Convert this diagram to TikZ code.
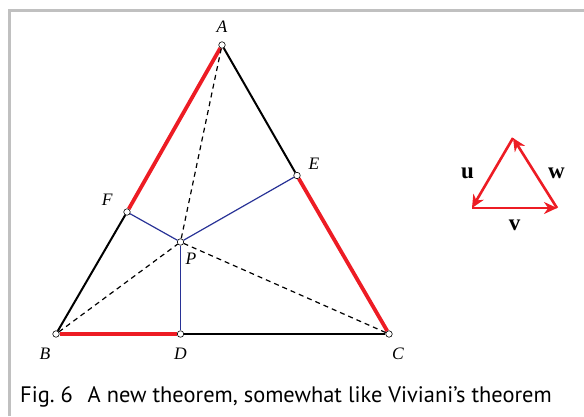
\documentclass[tikz,border=0pt]{standalone}
\usepackage{fontspec}
\setmainfont{Liberation Serif}
\newfontfamily\capfont{PT Sans}
\usetikzlibrary{positioning,arrows.meta}
\definecolor{figred}{RGB}{237,28,36}
\definecolor{figblue}{RGB}{40,50,150}
\definecolor{framegray}{RGB}{192,192,192}
\tikzset{
	vertex/.style={circle, draw, fill=white, inner sep=0pt, minimum size=6.5pt, line width=0.6pt},
	lbl/.style={font=\fontsize{17.5}{17.5}\selectfont\itshape},
	vlbl/.style={text=black, font=\fontsize{23}{23}\selectfont\bfseries},
	redside/.style={figred, line width=3.8pt},
	blackside/.style={black, line width=2pt},
	foot/.style={figblue, line width=1.2pt},
	cevian/.style={black, line width=1.2pt, dash pattern=on 5pt off 4pt},
	vec/.style={figred, line width=2.6pt, -{Stealth[length=13pt, width=12pt]}},
}

\begin{document}
\begin{tikzpicture}[x=1pt, y=-1pt]
	\useasboundingbox (0,0) rectangle (584,416);
	\draw[framegray, line width=2.5pt] (9.5,416) -- (9.5,10.5) -- (584,10.5);
	
	\node[vertex] (A) at (222,45) {};
	\node[vertex] (B) at (56,334) {};
	\node[vertex] (C) at (389,334) {};
	\node[vertex] (P) at (180.5,242) {};
	\node[vertex] (D) at (180.5,334) {};
	\node[vertex] (E) at (297,175.5) {};
	\node[vertex] (F) at (127,212) {};
	
	\node[lbl, above=5pt of A] (lA) {A};
	\node[lbl, below=7pt of B, xshift=-11pt] (lB) {B};
	\node[lbl, below=7pt of C, xshift=9pt] (lC) {C};
	\node[lbl, below=7pt of D] (lD) {D};
	\node[lbl, above right=-0.5pt and 5.5pt of E] (lE) {E};
	\node[lbl, above left=0pt and 8.5pt of F] (lF) {F};
	\node[lbl, below right=5pt and -1pt of P] (lP) {P};
	
	\draw[redside] (A) -- (F);
	\draw[redside] (E) -- (C);
	\draw[redside] (B) -- (D);
	\draw[blackside] (F) -- (B);
	\draw[blackside] (A) -- (E);
	\draw[blackside] (D) -- (C);
	
	\draw[cevian] (A) -- (P);
	\draw[cevian] (B) -- (P);
	\draw[cevian] (C) -- (P);
	
	\draw[foot] (P) -- (D);
	\draw[foot] (P) -- (E);
	\draw[foot] (P) -- (F);
	
	% u, v, w
	\coordinate (vT) at (513,138);
	\coordinate (vL) at (472,208);
	\coordinate (vR) at (557,208);
	\draw[vec] (vT) -- node[vlbl, left=14pt] (lu) {u} (vL);
	\draw[vec] (vL) -- node[vlbl, below=7pt] (lv) {v} (vR);
	\draw[vec] (vR) -- node[vlbl, right=8.5pt] (lw) {w} (vT);
	
	\node[anchor=base west, inner sep=0pt, font=\capfont\fontsize{22.4}{22.4}\selectfont] (cap) at (20,402.7) {Fig.~6\hspace{0.4em} A new theorem, somewhat like Viviani’s theorem};
	
\end{tikzpicture}
\end{document}
